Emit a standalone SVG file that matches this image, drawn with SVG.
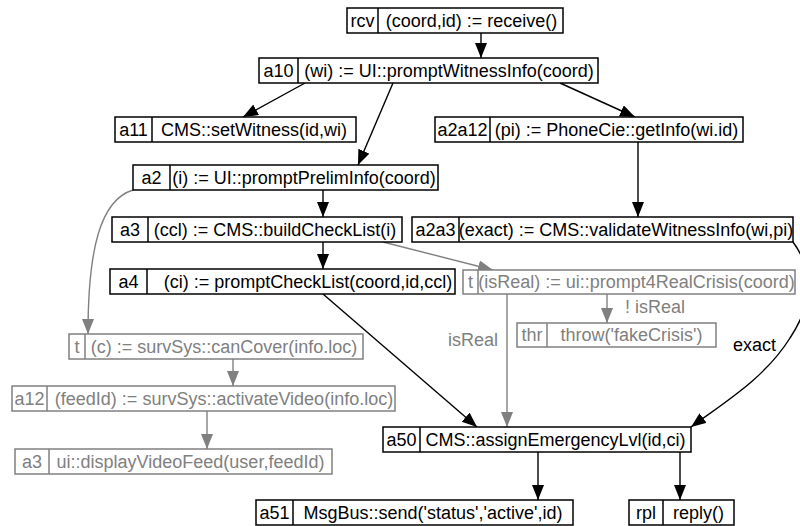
<svg xmlns="http://www.w3.org/2000/svg" width="800" height="526" viewBox="0 0 800 526">
<style>
text{font-family:"Liberation Sans",Arial,sans-serif;font-size:18px;text-anchor:middle}
.b rect,.b line{fill:#fff;stroke:#000;stroke-width:1.5}
.b text{fill:#000}
.g rect,.g line{fill:#fff;stroke:#808080;stroke-width:1.5}
.g text{fill:#808080}
.e{fill:none;stroke:#000;stroke-width:1.4;marker-end:url(#ab)}
.eg{fill:none;stroke:#808080;stroke-width:1.4;marker-end:url(#ag)}
.lb{fill:#000;text-anchor:start}
.lg{fill:#808080;text-anchor:start}
</style>
<defs>
<marker id="ab" markerUnits="userSpaceOnUse" markerWidth="16" markerHeight="13" refX="15" refY="6" orient="auto"><path d="M0,0 L15,6 L0,12 z" fill="#000"/></marker>
<marker id="ag" markerUnits="userSpaceOnUse" markerWidth="16" markerHeight="13" refX="15" refY="6" orient="auto"><path d="M0,0 L15,6 L0,12 z" fill="#808080"/></marker>
</defs>
<rect width="800" height="526" fill="#fff"/>
<g id="connectors">
<path class="e" d="M481,33 L481,58"/>
<path class="e" d="M305,83 L243,117"/>
<path class="e" d="M393,83 L358,165"/>
<path class="e" d="M560,83 L635,117"/>
<path class="e" d="M638,142 L638,217"/>
<path class="e" d="M323,190 L323,217"/>
<path class="e" d="M323,242 L323,269"/>
<path class="eg" d="M383,242 L493,270"/>
<path class="eg" d="M133,190 C100,200 88,250 88,334"/>
<path class="eg" d="M233,359 L233,386"/>
<path class="eg" d="M207,411 L207,449"/>
<path class="e" d="M323,294 L477,427"/>
<path class="eg" d="M507,294 L507,427"/>
<path class="eg" d="M607,294 L607,323"/>
<path class="e" d="M793,242 C815,272 812,305 790,338 C765,378 725,402 691,427"/>
<path class="e" d="M538,452 L538,500"/>
<path class="e" d="M680,452 L680,500"/>
<text class="lg" x="448" y="346">isReal</text>
<text class="lg" x="625" y="313">! isReal</text>
<text class="lb" x="733" y="351">exact</text>
</g>
<g id="rcv" class="b"><rect x="347" y="8" width="216" height="25"/><line x1="378" y1="8" x2="378" y2="33"/><text x="362.5" y="27">rcv</text><text x="471.5" y="27">(coord,id) := receive()</text></g>
<g id="a10" class="b"><rect x="259" y="58" width="339" height="25"/><line x1="298" y1="58" x2="298" y2="83"/><text x="278.5" y="77">a10</text><text x="449" y="77">(wi) := UI::promptWitnessInfo(coord)</text></g>
<g id="a11" class="b"><rect x="115" y="117" width="241" height="25"/><line x1="152" y1="117" x2="152" y2="142"/><text x="133.5" y="136">a11</text><text x="254" y="136">CMS::setWitness(id,wi)</text></g>
<g id="a2a12" class="b"><rect x="435" y="117" width="308" height="25"/><line x1="490" y1="117" x2="490" y2="142"/><text x="462.5" y="136">a2a12</text><text x="616.5" y="136">(pi) := PhoneCie::getInfo(wi.id)</text></g>
<g id="a2" class="b"><rect x="133" y="165" width="305" height="25"/><line x1="170" y1="165" x2="170" y2="190"/><text x="151.5" y="184">a2</text><text x="304" y="184">(i) := UI::promptPrelimInfo(coord)</text></g>
<g id="a3" class="b"><rect x="112" y="217" width="290" height="25"/><line x1="148" y1="217" x2="148" y2="242"/><text x="130" y="236">a3</text><text x="275" y="236">(ccl) := CMS::buildCheckList(i)</text></g>
<g id="a2a3" class="b"><rect x="412" y="217" width="381" height="25"/><line x1="459" y1="217" x2="459" y2="242"/><text x="435.5" y="236">a2a3</text><text x="626" y="236">(exact) := CMS::validateWitnessInfo(wi,pi)</text></g>
<g id="a4" class="b"><rect x="110" y="269" width="345" height="25"/><line x1="147" y1="269" x2="147" y2="294"/><text x="128.5" y="288">a4</text><text x="308" y="288">(ci) := promptCheckList(coord,id,ccl)</text></g>
<g id="t_isReal" class="g"><rect x="463" y="270" width="332" height="24"/><line x1="478" y1="270" x2="478" y2="294"/><text x="470.5" y="288">t</text><text x="636.5" y="288">(isReal) := ui::prompt4RealCrisis(coord)</text></g>
<g id="thr" class="g"><rect x="517" y="323" width="199" height="24"/><line x1="547" y1="323" x2="547" y2="347"/><text x="532" y="341">thr</text><text x="631.5" y="341">throw('fakeCrisis')</text></g>
<g id="t_c" class="g"><rect x="69" y="334" width="294" height="25"/><line x1="85" y1="334" x2="85" y2="359"/><text x="77" y="353">t</text><text x="224" y="353">(c) := survSys::canCover(info.loc)</text></g>
<g id="a12" class="g"><rect x="12" y="386" width="383" height="25"/><line x1="47" y1="386" x2="47" y2="411"/><text x="29.5" y="405">a12</text><text x="224" y="405">(feedId) := survSys::activateVideo(info.loc)</text></g>
<g id="a3_video" class="g"><rect x="15" y="449" width="317" height="25"/><line x1="49" y1="449" x2="49" y2="474"/><text x="32" y="468">a3</text><text x="190.5" y="468">ui::displayVideoFeed(user,feedId)</text></g>
<g id="a50" class="b"><rect x="383" y="427" width="308" height="25"/><line x1="420" y1="427" x2="420" y2="452"/><text x="401.5" y="446">a50</text><text x="555.5" y="446">CMS::assignEmergencyLvl(id,ci)</text></g>
<g id="a51" class="b"><rect x="256" y="500" width="317" height="25"/><line x1="293" y1="500" x2="293" y2="525"/><text x="274.5" y="519">a51</text><text x="433" y="519">MsgBus::send('status','active',id)</text></g>
<g id="rpl" class="b"><rect x="629" y="500" width="105" height="25"/><line x1="663" y1="500" x2="663" y2="525"/><text x="646" y="519">rpl</text><text x="698.5" y="519">reply()</text></g>
</svg>
